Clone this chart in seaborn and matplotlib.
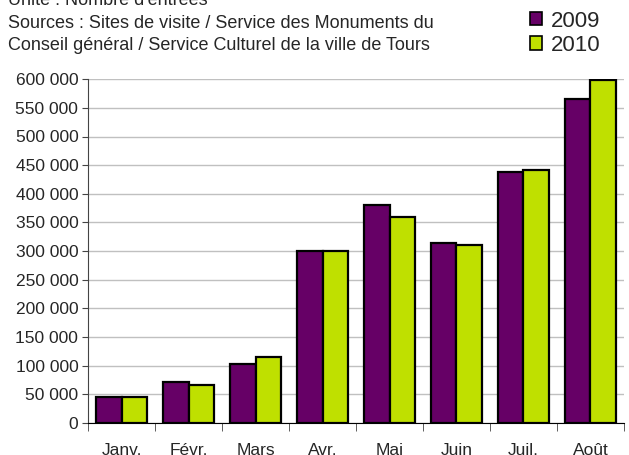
import pandas as pd
import seaborn as sb
import matplotlib.pyplot as plt
from matplotlib.patches import Patch
from matplotlib.ticker import FuncFormatter, FixedLocator

months = ["Janv.", "Févr.", "Mars", "Avr.", "Mai", "Juin", "Juil.", "Août"]
visits_2009 = [45000, 72000, 103000, 300000, 380000, 314000, 438000, 565000]
visits_2010 = [45000, 66000, 115000, 300000, 359000, 310000, 442000, 599000]
years = ["2009", "2010"]
colors = ["#660066", "#bfe000"]

df = pd.DataFrame({"Mois": months * 2,
                   "Entrées": visits_2009 + visits_2010,
                   "Année": [years[0]] * 8 + [years[1]] * 8})

sb.set_style("white")
plt.rcParams["font.family"] = ["Liberation Sans", "DejaVu Sans"]

fig = plt.figure(figsize=(6.29, 4.55), dpi=100)
ax = fig.add_axes([0.14, 0.070, 0.852, 0.756])
sb.barplot(data=df, x="Mois", y="Entrées", hue="Année", palette=colors,
           edgecolor="black", linewidth=1.6, width=0.75, saturation=1,
           legend=False, ax=ax)

ax.set_ylim(0, 600000)
ax.set_xlim(-0.5, len(months) - 0.5)
ax.set_yticks(range(0, 600001, 50000))
ax.yaxis.set_major_formatter(FuncFormatter(lambda v, p: f"{int(v):,}".replace(",", " ")))
ax.yaxis.grid(True, color="#c0c0c0", linewidth=1)
ax.set_axisbelow(True)
for s in ["top", "right"]:
    ax.spines[s].set_visible(False)
ax.spines["left"].set_color("#444444")
ax.spines["bottom"].set_color("black")
ax.set_xlabel("")
ax.set_ylabel("")
ax.tick_params(axis="y", labelsize=12.5, length=4, left=True, color="#444444", pad=3)
ax.tick_params(axis="x", labelsize=12.5, length=0, pad=14.5)
ax.xaxis.set_minor_locator(FixedLocator([i - 0.5 for i in range(len(months) + 1)]))
ax.tick_params(axis="x", which="minor", bottom=True, length=6, color="#444444")

fig.text(0.013, 0.989, "Unité : Nombre d'entrées", fontsize=13, va="baseline")
fig.text(0.013, 0.938, "Sources : Sites de visite / Service des Monuments du", fontsize=13, va="baseline")
fig.text(0.013, 0.890, "Conseil général / Service Culturel de la ville de Tours", fontsize=13, va="baseline")

handles = [Patch(facecolor=c, edgecolor="black", linewidth=1.2, label=y) for c, y in zip(colors, years)]
fig.legend(handles=handles, loc="center left", bbox_to_anchor=(0.843, 0.927),
           frameon=False, fontsize=16, handlelength=0.55, handleheight=0.55,
           handletextpad=0.4, labelspacing=0.15, borderpad=0, borderaxespad=0)

fig.savefig("out.png", dpi=100)
